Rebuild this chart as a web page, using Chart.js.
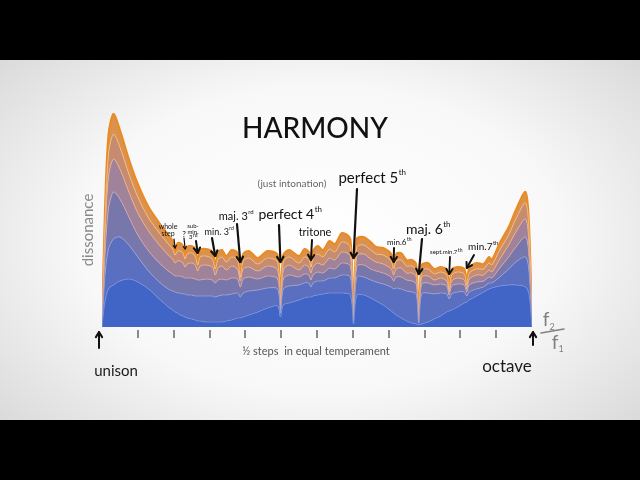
<!DOCTYPE html>
<html>
<head>
<meta charset="utf-8">
<script src="https://cdn.jsdelivr.net/npm/chart.js@4.4.1/dist/chart.umd.min.js"></script>
<style>
  html, body { margin: 0; padding: 0; background: #000; }
  #frame {
    position: absolute; left: 0; top: 60px; width: 640px; height: 360px;
    background: radial-gradient(ellipse 75% 85% at 50% 50%, #ffffff 0%, #f8f8f8 50%, #d2d2d2 100%);
  }
  #wrap { position: absolute; left: 0; top: 0; width: 640px; height: 480px; }
</style>
</head>
<body>
<div id="frame"></div>
<div id="wrap"><canvas id="harmonyChart" width="640" height="480"></canvas></div>
<script>
// frequency ratio as half steps above the unison
const semis = [
  0, 0.08, 0.18, 0.32, 0.5, 0.75, 1.0, 1.3, 1.6, 1.85,
  1.97, 2.04, 2.11, 2.18, 2.26, 2.32, 2.38, 2.5, 2.6, 2.67,
  2.74, 2.9, 3.08, 3.16, 3.24, 3.35, 3.47, 3.62, 3.78, 3.86,
  3.94, 4.1, 4.35, 4.62, 4.9, 4.98, 5.06, 5.22, 5.5, 5.65,
  5.77, 5.83, 5.89, 6.02, 6.17, 6.35, 6.5, 6.7, 6.93, 7.02,
  7.11, 7.3, 7.5, 7.65, 7.85, 8.07, 8.14, 8.21, 8.35, 8.5,
  8.65, 8.77, 8.84, 8.92, 9.1, 9.27, 9.45, 9.62, 9.69, 9.76,
  9.92, 10.11, 10.18, 10.25, 10.45, 10.65, 10.8, 10.88, 11.1, 11.35,
  11.55, 11.82, 11.92, 12
];

// dissonance layers, bottom (fewest partials) to top (all partials)
const layer1 = [
  0, 25, 38, 42, 46, 48, 45, 38, 28, 20,
  17, 15, 14, 12, 11, 10, 9, 8, 7, 6,
  6, 5, 5, 5, 5, 5, 6, 7, 9, 9,
  10, 12, 15, 19, 21, 10, 22, 24, 27, 29,
  30, 30, 31, 32, 33, 34, 34, 34, 32, 3,
  32, 32, 29, 26, 22, 16, 14, 12, 9, 6,
  4, 3, 2, 3, 5, 8, 11, 15, 16, 17,
  20, 24, 25, 27, 31, 35, 38, 39, 41, 42,
  42, 40, 32, 0
];
const layer2 = [
  0, 50, 78, 88, 90, 82, 70, 56, 45, 38,
  36, 35, 34, 34, 33, 33, 32, 32, 31, 31,
  31, 31, 31, 30, 31, 32, 32, 33, 34, 30,
  34, 36, 37, 39, 38, 14, 38, 41, 42, 44,
  44, 40, 44, 46, 46, 49, 49, 52, 50, 4,
  50, 50, 47, 45, 43, 40, 38, 39, 38, 36,
  35, 33, 4, 33, 34, 33, 34, 33, 28, 33,
  35, 35, 31, 35, 38, 40, 44, 44, 50, 58,
  65, 70, 54, 0
];
const layer3 = [
  0, 70, 118, 135, 128, 110, 92, 76, 64, 56,
  53, 51, 51, 51, 50, 49, 49, 49, 48, 47,
  47, 48, 47, 44, 47, 48, 47, 49, 48, 40,
  48, 50, 48, 51, 48, 16, 48, 52, 50, 53,
  52, 47, 52, 55, 54, 59, 58, 64, 61, 5,
  61, 62, 58, 56, 54, 50, 46, 50, 50, 47,
  46, 43, 5, 43, 44, 42, 43, 41, 32, 41,
  43, 42, 35, 42, 45, 46, 50, 49, 59, 70,
  80, 90, 68, 0
];
const layer4 = [
  0, 88, 150, 168, 158, 135, 114, 96, 82, 72,
  68, 64, 66, 66, 64, 60, 63, 64, 62, 56,
  61, 62, 60, 52, 59, 61, 57, 61, 58, 46,
  58, 60, 56, 61, 57, 18, 57, 62, 57, 62,
  60, 54, 60, 64, 62, 69, 67, 75, 71, 5,
  71, 73, 68, 65, 63, 58, 52, 58, 59, 54,
  54, 50, 5, 50, 51, 47, 49, 46, 35, 46,
  49, 47, 38, 48, 52, 52, 57, 55, 68, 82,
  95, 108, 80, 0
];
const layer5 = [
  0, 100, 172, 193, 180, 153, 130, 109, 94, 83,
  78, 72, 76, 76, 74, 68, 73, 74, 71, 62,
  70, 71, 68, 58, 68, 70, 65, 70, 67, 50,
  66, 69, 63, 69, 65, 20, 65, 70, 64, 70,
  68, 60, 68, 73, 70, 78, 75, 85, 80, 5,
  80, 82, 77, 73, 72, 66, 58, 66, 67, 61,
  61, 56, 5, 56, 58, 53, 55, 52, 38, 52,
  55, 53, 42, 54, 58, 58, 64, 62, 77, 92,
  108, 124, 92, 0
];
const layer6 = [
  0, 115, 192, 213, 197, 168, 143, 120, 104, 92,
  86, 76, 84, 84, 81, 72, 80, 81, 78, 66,
  77, 78, 75, 62, 75, 77, 71, 77, 74, 54,
  73, 76, 69, 76, 72, 22, 72, 77, 71, 78,
  75, 64, 76, 81, 77, 86, 83, 94, 88, 5,
  88, 90, 85, 80, 79, 73, 63, 73, 74, 67,
  67, 62, 6, 62, 64, 58, 60, 57, 40, 57,
  60, 58, 45, 59, 64, 63, 70, 67, 84, 100,
  117, 135, 100, 0
];

const layers = [layer1, layer2, layer3, layer4, layer5, layer6];
const bandColors = ['#4065c6', '#5a6fbf', '#7877ab', '#a0829a', '#c58c72', '#db924e'];
const lineColors = ['rgba(120,145,220,0.8)', 'rgba(160,160,215,0.8)', 'rgba(215,170,165,0.8)',
                    'rgba(240,180,130,0.85)', 'rgba(248,188,115,0.9)', '#ea8a22'];

const stepTicks = [1, 2, 3, 4, 5, 6, 7, 8, 9, 10, 11];

const intervalNotes = [
  { at: 2.04, lines: ['whole', 'step'], size: 7, x: 168, y: 227, from: [174, 239], tipY: 248, w: 1.2 },
  { at: 2.32, lines: ['?'], size: 8, x: 184, y: 234, from: [184, 238], tipY: 249, w: 1.2 },
  { at: 2.67, lines: ['sub-', 'min.', '3rd'], size: 6, x: 193, y: 226, from: [196, 241], tipY: 253, w: 2 },
  { at: 3.16, lines: ['min. 3rd'], size: 9, x: 219, y: 232, from: [212, 238], tipY: 256, w: 2.2 },
  { at: 3.86, lines: ['maj. 3rd'], size: 11, x: 236, y: 216, from: [237, 224], tipY: 262, w: 2.2 },
  { at: 4.98, lines: ['perfect 4th'], size: 14, x: 290, y: 214, from: [279, 225], tipY: 262, w: 2.2 },
  { at: 5.83, lines: ['tritone'], size: 11, x: 315, y: 232, from: [312, 240], tipY: 260, w: 2 },
  { at: 7.02, lines: ['perfect 5th'], size: 15, x: 372, y: 178, from: [357, 189], tipY: 258, w: 2.2 },
  { at: 8.14, lines: ['min.6th'], size: 8, x: 399, y: 242, from: [394, 248], tipY: 262, w: 2 },
  { at: 8.84, lines: ['maj. 6th'], size: 14, x: 428, y: 229, from: [422, 239], tipY: 274, w: 2.2 },
  { at: 9.69, lines: ['sept.min.7th'], size: 6, x: 446, y: 252, from: [450, 257], tipY: 274, w: 1.8 },
  { at: 10.18, lines: ['min.7th'], size: 10, x: 483, y: 247, from: [474, 255], tipY: 268, w: 2 }
];

const FONT = 'Lato, "Open Sans", sans-serif';

function drawLabel(ctx, x, y, str, size, color, weight) {
  const m = str.match(/^(.*\d)(st|nd|rd|th)$/);
  const main = m ? m[1] : str;
  const sup = m ? m[2] : '';
  const w = weight || 'normal';
  const mainFont = `${w} ${size}px ${FONT}`;
  const supFont = `${w} ${Math.max(5, Math.round(size * 0.55))}px ${FONT}`;
  ctx.font = mainFont;
  const w1 = ctx.measureText(main).width;
  ctx.font = supFont;
  const w2 = sup ? ctx.measureText(sup).width : 0;
  const left = x - (w1 + w2) / 2;
  ctx.fillStyle = color;
  ctx.textAlign = 'left';
  ctx.textBaseline = 'middle';
  ctx.font = mainFont;
  ctx.fillText(main, left, y);
  if (sup) {
    ctx.font = supFont;
    ctx.fillText(sup, left + w1 + 0.5, y - size * 0.35);
  }
}

function drawArrow(ctx, x1, y1, x2, y2, width, head) {
  ctx.strokeStyle = '#111';
  ctx.lineWidth = width;
  ctx.lineCap = 'round';
  ctx.lineJoin = 'round';
  ctx.beginPath();
  ctx.moveTo(x1, y1);
  ctx.lineTo(x2, y2);
  ctx.stroke();
  const a = Math.atan2(y2 - y1, x2 - x1);
  ctx.beginPath();
  ctx.moveTo(x2 - head * Math.cos(a - 0.55), y2 - head * Math.sin(a - 0.55));
  ctx.lineTo(x2, y2);
  ctx.lineTo(x2 - head * Math.cos(a + 0.55), y2 - head * Math.sin(a + 0.55));
  ctx.stroke();
}

const harmonyDecor = {
  id: 'harmonyDecor',
  afterDraw(chart) {
    const ctx = chart.ctx;
    const xs = chart.scales.x;
    const area = chart.chartArea;
    ctx.save();

    // half-step tick marks under the curve
    ctx.strokeStyle = '#8a8a8a';
    ctx.lineWidth = 2;
    stepTicks.forEach(t => {
      const px = Math.round(xs.getPixelForValue(t));
      ctx.beginPath();
      ctx.moveTo(px, area.bottom + 3);
      ctx.lineTo(px, area.bottom + 11);
      ctx.stroke();
    });

    // unison / octave
    const ux = xs.getPixelForValue(0) - 3;
    const ox = xs.getPixelForValue(12) + 1;
    drawArrow(ctx, ux, area.bottom + 21, ux, area.bottom + 5, 2, 6);
    drawArrow(ctx, ox, area.bottom + 18, ox, area.bottom + 5, 2, 6);
    drawLabel(ctx, 116, 371, 'unison', 15, '#1a1a1a');
    drawLabel(ctx, 507, 367, 'octave', 17, '#1a1a1a');
    drawLabel(ctx, 316, 351, '½ steps  in equal temperament', 11, '#555');

    // f2 / f1
    ctx.fillStyle = '#808080';
    ctx.textAlign = 'center';
    ctx.textBaseline = 'middle';
    ctx.font = `19px ${FONT}`;
    ctx.fillText('f', 546, 320);
    ctx.fillText('f', 555, 343);
    ctx.font = `9px ${FONT}`;
    ctx.fillText('2', 552, 327);
    ctx.fillText('1', 561, 349);
    ctx.strokeStyle = '#808080';
    ctx.lineWidth = 1.5;
    ctx.beginPath();
    ctx.moveTo(541, 333);
    ctx.lineTo(564, 329);
    ctx.stroke();

    // axis title
    ctx.save();
    ctx.translate(88, 230);
    ctx.rotate(-Math.PI / 2);
    drawLabel(ctx, 0, 0, 'dissonance', 15, '#8a8a8a');
    ctx.restore();

    // title
    drawLabel(ctx, 315, 129, 'HARMONY', 28, '#111', '500');
    drawLabel(ctx, 292, 184, '(just intonation)', 10, '#666');

    // interval annotations
    intervalNotes.forEach(n => {
      n.lines.forEach((ln, i) => drawLabel(ctx, n.x, n.y + i * n.size * 0.95, ln, n.size, '#111'));
      const tx = xs.getPixelForValue(n.at);
      drawArrow(ctx, n.from[0], n.from[1], tx, n.tipY, n.w, n.w > 1.5 ? 6 : 3);
    });

    ctx.restore();
  }
};

const datasets = layers.map((layer, i) => ({
  data: semis.map((s, j) => ({ x: s, y: layer[j] })),
  fill: i === 0 ? 'origin' : '-1',
  backgroundColor: bandColors[i],
  borderColor: lineColors[i],
  borderWidth: i === layers.length - 1 ? 2 : 1,
  pointRadius: 0,
  tension: 0.3
}));

new Chart(document.getElementById('harmonyChart').getContext('2d'), {
  type: 'line',
  data: { datasets: datasets },
  options: {
    responsive: false,
    animation: false,
    layout: { padding: { left: 102, right: 108, top: 107, bottom: 153 } },
    scales: {
      x: { type: 'linear', min: 0, max: 12, display: false },
      y: { min: 0, max: 220, display: false }
    },
    plugins: {
      legend: { display: false },
      tooltip: { enabled: false }
    }
  },
  plugins: [harmonyDecor]
});
</script>
</body>
</html>
